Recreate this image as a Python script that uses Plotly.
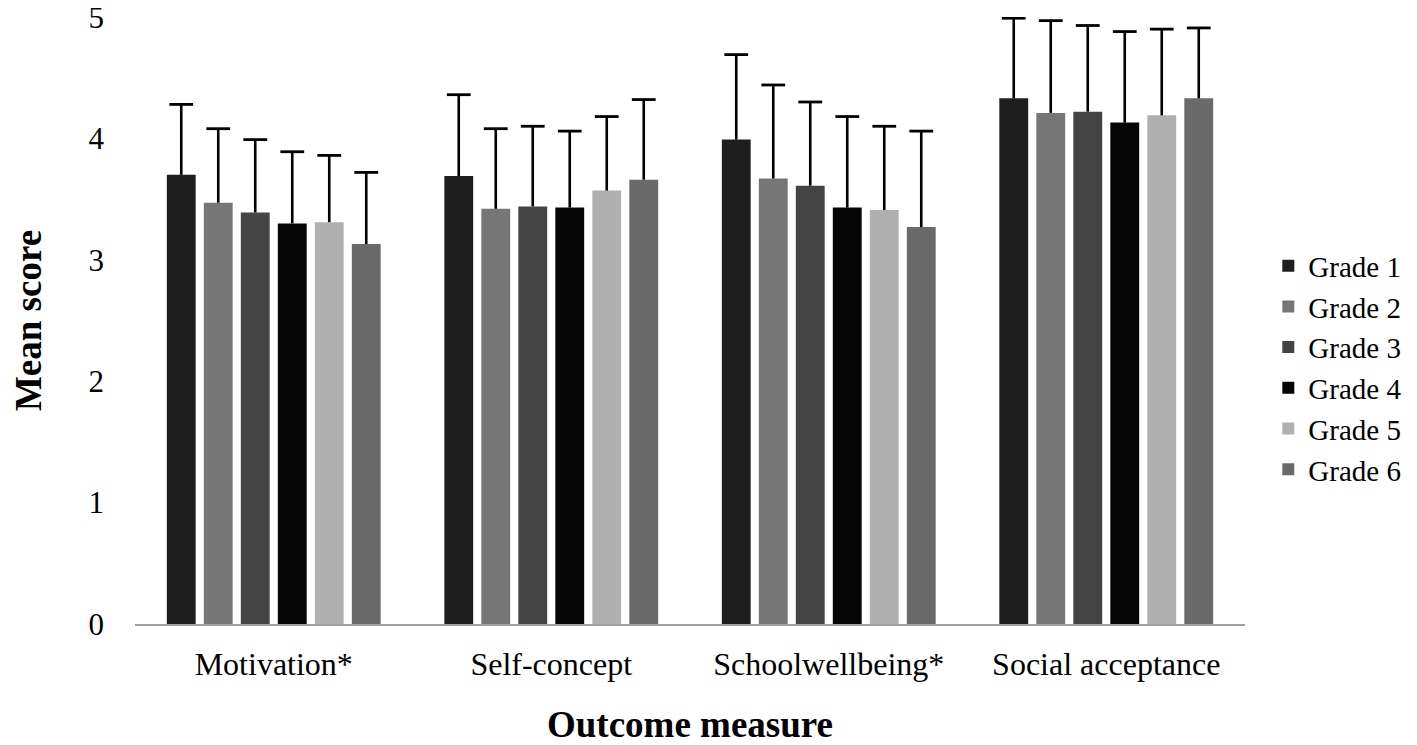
import plotly.graph_objects as go

categories = ['Motivation*', 'Self-concept', 'Schoolwellbeing*', 'Social acceptance']
grades = ['Grade 1', 'Grade 2', 'Grade 3', 'Grade 4', 'Grade 5', 'Grade 6']

# mean scores per grade (one list per grade, in category order)
g1_mean = [3.70, 3.69, 3.99, 4.33]
g2_mean = [3.47, 3.42, 3.67, 4.21]
g3_mean = [3.39, 3.44, 3.61, 4.22]
g4_mean = [3.30, 3.43, 3.43, 4.13]
g5_mean = [3.31, 3.57, 3.41, 4.19]
g6_mean = [3.13, 3.66, 3.27, 4.33]

# standard deviations (upper error bar only)
g1_sd = [0.58, 0.67, 0.70, 0.66]
g2_sd = [0.61, 0.66, 0.77, 0.76]
g3_sd = [0.60, 0.66, 0.69, 0.71]
g4_sd = [0.59, 0.63, 0.75, 0.75]
g5_sd = [0.55, 0.61, 0.69, 0.71]
g6_sd = [0.59, 0.66, 0.79, 0.58]

means = [g1_mean, g2_mean, g3_mean, g4_mean, g5_mean, g6_mean]
sds = [g1_sd, g2_sd, g3_sd, g4_sd, g5_sd, g6_sd]
colors = ['#1e1e1e', '#767676', '#444444', '#050505', '#b0b0b0', '#6a6a6a']

font = 'Liberation Serif, Times New Roman, serif'

fig = go.Figure()
for i, g in enumerate(grades):
    # bar with the upright part of the error bar (no caps, so none at the bar top)
    fig.add_trace(go.Bar(
        name=g, x=categories, y=means[i],
        marker_color=colors[i], marker_line_width=0,
        offsetgroup=str(i),
        error_y=dict(type='data', array=sds[i], arrayminus=[0] * len(categories),
                     symmetric=False, color='black', thickness=2.6, width=0)
    ))
for i, g in enumerate(grades):
    # cap on top of each error bar only
    tops = [m + s for m, s in zip(means[i], sds[i])]
    fig.add_trace(go.Scatter(
        x=categories, y=tops, mode='markers', showlegend=False,
        offsetgroup=str(i), hoverinfo='skip',
        marker=dict(symbol='line-ew', size=17, color='black',
                    line=dict(color='black', width=2.8))
    ))

# page body has an 8px margin, so the figure is a bit smaller than the window
fig.update_layout(
    barmode='group',
    scattermode='group',
    bargap=0.2,
    bargroupgap=0.22,
    scattergap=0.2,
    width=1409, height=737,
    margin=dict(l=127, r=172, t=9, b=121, autoexpand=False),
    plot_bgcolor='white',
    paper_bgcolor='white',
    font=dict(family=font, size=32, color='black'),
    showlegend=True,
    legend=dict(x=1.021, y=0.422, xanchor='left', yanchor='middle',
                font=dict(size=29), tracegroupgap=2, itemwidth=30),
    xaxis=dict(
        title=dict(text='<b>Outcome measure</b>', font=dict(size=37), standoff=30),
        showline=True, linecolor='#a0a0a0', linewidth=2,
        ticks='', ticklabelstandoff=11, automargin=False,
        tickfont=dict(size=32),
    ),
    yaxis=dict(
        title=dict(text='<b>Mean score</b>', font=dict(size=37), standoff=36),
        range=[0, 5], dtick=1, showgrid=False, zeroline=False,
        showline=False, ticks='', ticklabelstandoff=30, automargin=False,
        ticklabeloverflow='allow', tickfont=dict(size=31),
    ),
)

fig.write_html("out.html")
